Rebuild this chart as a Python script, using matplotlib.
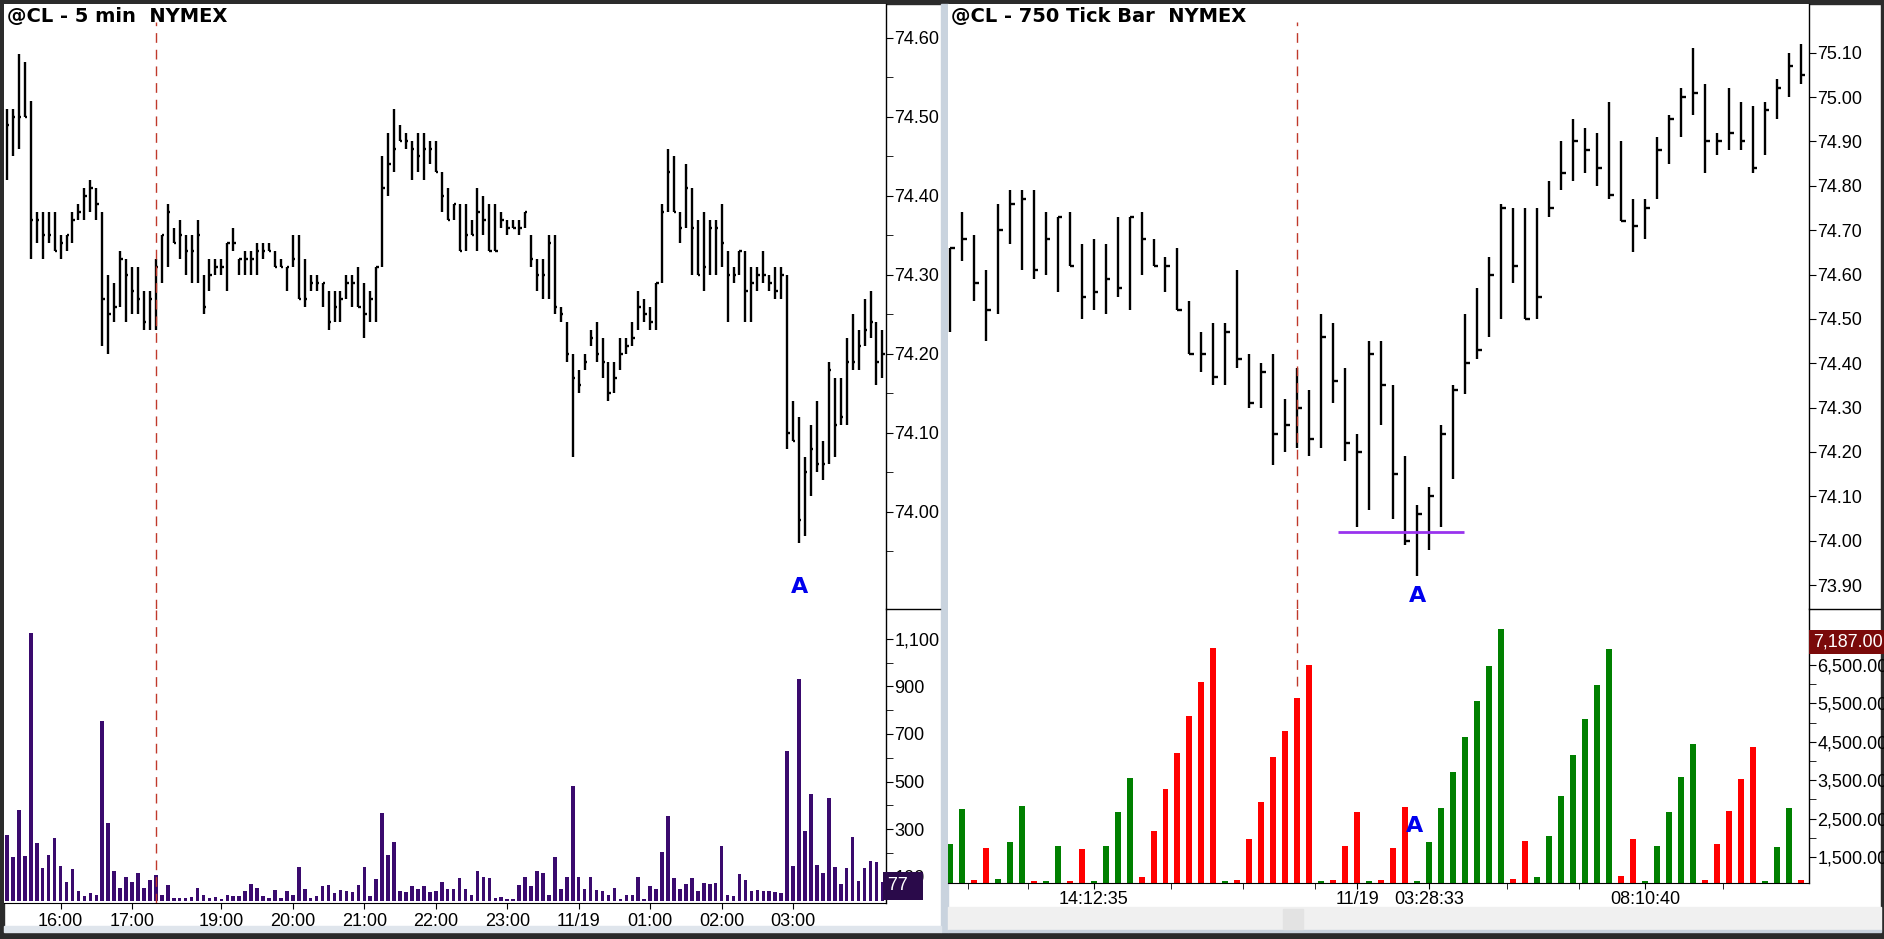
import matplotlib
matplotlib.use("Agg")
import matplotlib.pyplot as plt
from matplotlib.patches import Rectangle
from matplotlib.lines import Line2D
import numpy as np

# ---------------- data: left chart (5 min bars) ----------------
left_high = [74.51,74.51,74.58,74.57,74.52,74.38,74.38,74.38,74.38,74.35,
             74.35,74.38,74.39,74.41,74.42,74.41,74.38,74.30,74.29,74.33,
             74.32,74.31,74.31,74.28,74.28,74.32,74.35,74.39,74.36,74.37,
             74.35,74.35,74.37,74.30,74.32,74.32,74.32,74.34,74.36,74.32,
             74.33,74.33,74.34,74.34,74.34,74.33,74.32,74.31,74.35,74.35,
             74.32,74.30,74.30,74.29,74.28,74.28,74.28,74.30,74.30,74.31,
             74.29,74.28,74.31,74.45,74.48,74.51,74.49,74.48,74.47,74.48,
             74.48,74.47,74.47,74.43,74.41,74.39,74.39,74.39,74.37,74.41,
             74.40,74.39,74.39,74.38,74.37,74.37,74.37,74.38,74.35,74.32,
             74.32,74.35,74.35,74.26,74.24,74.20,74.18,74.20,74.23,74.24,
             74.22,74.19,74.19,74.22,74.22,74.24,74.28,74.27,74.26,74.29,
             74.39,74.46,74.45,74.38,74.44,74.41,74.37,74.38,74.37,74.37,
             74.39,74.33,74.31,74.33,74.33,74.31,74.31,74.33,74.30,74.31,
             74.31,74.30,74.14,74.12,74.07,74.11,74.14,74.09,74.19,74.17,
             74.17,74.22,74.25,74.23,74.27,74.28,74.24,74.23]
left_low = [74.42,74.45,74.46,74.50,74.32,74.34,74.32,74.34,74.33,74.32,
            74.33,74.34,74.37,74.37,74.38,74.37,74.21,74.20,74.24,74.26,
            74.24,74.25,74.25,74.23,74.23,74.23,74.29,74.31,74.34,74.32,
            74.30,74.29,74.29,74.25,74.28,74.30,74.30,74.28,74.33,74.30,
            74.30,74.30,74.30,74.32,74.33,74.31,74.31,74.28,74.31,74.27,
            74.26,74.28,74.28,74.26,74.23,74.24,74.24,74.27,74.26,74.26,
            74.22,74.24,74.24,74.31,74.40,74.43,74.47,74.46,74.42,74.43,
            74.42,74.44,74.43,74.38,74.37,74.37,74.33,74.33,74.35,74.33,
            74.35,74.33,74.33,74.36,74.35,74.36,74.35,74.36,74.31,74.28,
            74.27,74.27,74.25,74.24,74.19,74.07,74.15,74.18,74.21,74.19,
            74.17,74.14,74.15,74.18,74.20,74.21,74.23,74.24,74.23,74.23,
            74.29,74.38,74.38,74.34,74.36,74.30,74.30,74.28,74.30,74.30,
            74.31,74.24,74.29,74.30,74.24,74.24,74.28,74.29,74.28,74.27,
            74.27,74.08,74.09,73.96,73.97,74.02,74.05,74.04,74.06,74.07,
            74.11,74.11,74.18,74.18,74.21,74.22,74.16,74.17]
left_close = [74.49,74.50,74.50,74.50,74.37,74.37,74.35,74.35,74.33,74.34,
              74.35,74.37,74.38,74.40,74.41,74.39,74.27,74.25,74.26,74.32,
              74.30,74.28,74.27,74.24,74.27,74.31,74.35,74.38,74.34,74.35,
              74.33,74.33,74.35,74.26,74.30,74.31,74.31,74.34,74.34,74.32,
              74.32,74.32,74.33,74.33,74.33,74.31,74.31,74.31,74.32,74.27,
              74.27,74.29,74.29,74.29,74.24,74.26,74.27,74.29,74.29,74.26,
              74.25,74.27,74.31,74.41,74.44,74.46,74.47,74.47,74.46,74.45,
              74.46,74.46,74.43,74.40,74.37,74.39,74.33,74.35,74.35,74.38,
              74.37,74.33,74.33,74.37,74.36,74.36,74.36,74.38,74.32,74.30,
              74.30,74.34,74.26,74.25,74.20,74.17,74.16,74.19,74.22,74.20,
              74.19,74.15,74.17,74.20,74.21,74.22,74.26,74.25,74.24,74.29,
              74.38,74.43,74.38,74.36,74.41,74.36,74.30,74.31,74.36,74.36,
              74.34,74.30,74.30,74.33,74.28,74.29,74.30,74.30,74.29,74.28,
              74.30,74.10,74.09,73.99,74.05,74.08,74.06,74.06,74.18,74.11,
              74.12,74.19,74.19,74.21,74.23,74.24,74.19,74.20]
left_volume = [276,182,380,187,1125,244,139,191,264,145,
               80,133,42,20,33,23,755,328,126,55,
               101,80,115,51,87,108,22,66,10,12,
               12,16,55,25,12,14,5,22,20,20,
               40,70,55,20,10,45,10,40,25,140,
               50,10,20,60,65,30,45,42,38,65,
               140,20,90,370,190,245,40,35,60,50,
               60,35,40,80,50,50,95,50,25,125,
               100,95,10,15,8,5,65,100,60,125,
               115,25,185,50,100,480,100,50,100,45,
               40,25,55,5,25,25,100,5,60,50,
               205,355,95,50,70,95,40,75,70,75,
               230,25,20,110,85,40,45,40,40,38,
               30,630,145,930,294,448,150,117,433,143,
               70,139,268,84,139,168,162,77]
left_xticks = [9, 21, 36, 48, 60, 72, 84, 96, 108, 120, 132]
left_xlabels = ["16:00", "17:00", "19:00", "20:00", "21:00", "22:00",
                "23:00", "11/19", "01:00", "02:00", "03:00"]
left_session = 25
left_a_bar = 133

# ---------------- data: right chart (750 tick bars) ----------------
right_high = [74.66,74.74,74.69,74.61,74.76,74.79,74.79,74.79,74.74,74.73,
              74.74,74.67,74.68,74.67,74.73,74.73,74.74,74.68,74.64,74.66,
              74.54,74.47,74.49,74.49,74.61,74.42,74.40,74.42,74.32,74.39,
              74.34,74.51,74.49,74.39,74.24,74.45,74.45,74.35,74.19,74.08,
              74.12,74.26,74.35,74.51,74.57,74.64,74.76,74.75,74.75,74.75,
              74.81,74.90,74.95,74.93,74.92,74.99,74.90,74.77,74.77,74.91,
              74.96,75.02,75.11,75.03,74.92,75.02,74.99,74.98,74.99,75.04,
              75.10,75.12]
right_low = [74.47,74.63,74.54,74.45,74.51,74.67,74.61,74.59,74.60,74.56,
             74.62,74.50,74.52,74.51,74.55,74.52,74.60,74.62,74.56,74.52,
             74.42,74.38,74.35,74.35,74.39,74.30,74.30,74.17,74.20,74.21,
             74.19,74.21,74.31,74.18,74.03,74.07,74.26,74.05,73.99,73.92,
             73.98,74.03,74.14,74.33,74.41,74.46,74.50,74.58,74.50,74.50,
             74.73,74.79,74.81,74.83,74.80,74.77,74.72,74.65,74.68,74.77,
             74.85,74.91,74.96,74.83,74.87,74.88,74.88,74.83,74.87,74.95,
             75.00,75.03]
right_close = [74.66,74.68,74.58,74.52,74.70,74.76,74.77,74.61,74.68,74.73,
               74.62,74.55,74.56,74.59,74.57,74.73,74.68,74.62,74.62,74.52,
               74.42,74.42,74.37,74.47,74.41,74.31,74.38,74.24,74.26,74.30,
               74.23,74.46,74.36,74.22,74.20,74.42,74.35,74.15,74.00,74.06,
               74.10,74.24,74.34,74.40,74.43,74.60,74.75,74.62,74.50,74.55,
               74.75,74.83,74.90,74.88,74.84,74.78,74.72,74.71,74.75,74.88,
               74.95,75.00,75.01,74.90,74.90,74.92,74.90,74.84,74.97,75.02,
               75.07,75.05]
right_volume = [1831,2744,890,1744,918,1883,2822,880,880,1779,
                880,1700,880,1779,2666,3553,974,2170,3266,4205,
                5170,6057,6944,880,890,1961,2927,4100,4779,5640,
                6500,880,890,1779,2666,880,890,1727,2796,880,
                1883,2770,3709,4622,5561,6474,7440,918,1909,974,
                2040,3083,4153,5092,5979,6918,1000,1961,880,1779,
                2666,3579,4440,890,1831,2692,3527,4361,880,1753,
                2770,890]
right_up = [1,1,0,0,1,1,1,0,1,1,0,0,1,1,1,1,0,0,0,0,
            0,0,0,1,0,0,0,0,0,0,0,1,0,0,0,1,0,0,0,1,
            1,1,1,1,1,1,1,0,0,1,1,1,1,1,1,1,0,0,1,1,
            1,1,1,0,0,0,0,0,1,1,1,0]
right_xticks = [12, 34, 40, 58]
right_xlabels = ["14:12:35", "11/19", "03:28:33", "08:10:40"]
right_minor = [1.5, 6.5, 18.5, 24.5, 30.5, 46.5, 52.5, 64.5]
right_session = 29
right_support = 74.02
right_a_bar = 39
right_last_label = "7,187.00"

# ---------------- layout helpers ----------------
W, H = 1884, 939
fig = plt.figure(figsize=(W / 100, H / 100), dpi=100)
fig.patch.set_facecolor("white")
FONT = ["Liberation Sans Narrow", "Liberation Sans", "DejaVu Sans"]
plt.rcParams["font.family"] = FONT


def px_axes(x0, y0, x1, y1):
    return fig.add_axes([x0 / W, 1 - y1 / H, (x1 - x0) / W, (y1 - y0) / H])


def bg(x0, y0, x1, y1, color):
    fig.patches.append(Rectangle((x0 / W, 1 - y1 / H), (x1 - x0) / W, (y1 - y0) / H,
                                 transform=fig.transFigure, color=color, zorder=-5))


def fline(x0, x1, y, color="black", lw=1.0):
    fig.lines.append(Line2D([x0 / W, x1 / W], [1 - y / H, 1 - y / H],
                            transform=fig.transFigure, color=color, lw=lw))


# frame decorations
bg(0, 0, W, 4, "#2b2b2b")
bg(0, 0, 4, H, "#2b2b2b")
bg(W - 3, 0, W, H, "#2b2b2b")
bg(0, 932, W, H, "#2b2b2b")
bg(941, 4, 948, 932, "#c9d3de")
bg(4, 926, 941, 932, "#dfe5ec")
bg(948, 907, W - 3, 930, "#f0f0f0")
bg(948, 930, W - 3, 932, "#c9d3de")
bg(1283, 909, 1303, 929, "#e3e3e3")
fline(886, 940, 609)
fline(1809, W - 4, 609)


def style_price(ax, lo, hi, ticks, minor, fmt):
    ax.set_ylim(lo, hi)
    for s in ["left", "top", "bottom"]:
        ax.spines[s].set_visible(False)
    ax.spines["right"].set_linewidth(1.0)
    ax.yaxis.tick_right()
    ax.set_yticks(ticks)
    ax.set_yticklabels([fmt(t) for t in ticks], fontsize=13)
    ax.set_yticks(minor, minor=True)
    ax.tick_params(axis="y", which="both", direction="out", length=5, pad=1)
    ax.set_xticks([])


def draw_bars(ax, high, low, close):
    x = np.arange(len(high))
    ax.vlines(x, low, high, color="black", lw=1.7)
    ax.hlines(close, x, x + 0.4, color="black", lw=1.7)


# ---------------- left chart ----------------
n_left = len(left_high)
axp = px_axes(4, 4, 886, 609)
draw_bars(axp, left_high, left_low, left_close)
axp.set_xlim(-0.5, n_left - 0.4)
lt = [74.00, 74.10, 74.20, 74.30, 74.40, 74.50, 74.60]
style_price(axp, 73.877, 74.643, lt, [73.95, 74.05, 74.15, 74.25, 74.35, 74.45, 74.55],
            lambda v: f"{v:.2f}")
axp.axvline(left_session, ymin=0, ymax=0.97, color="#c0392b", lw=1, ls=(0, (7, 5)))
axp.text(0.003, 0.995, "@CL - 5 min  NYMEX", transform=axp.transAxes, ha="left", va="top",
         fontsize=14, fontweight="bold", family=["Liberation Sans Narrow", "DejaVu Sans"])
axp.text(left_a_bar, 73.905, "A", color="#0000ee", fontsize=16, fontweight="bold",
         ha="center", va="center", family=["DejaVu Sans"])

axv = px_axes(4, 609, 886, 903)
axv.bar(np.arange(n_left), left_volume, width=0.6, color="#3a0a6e")
axv.set_xlim(-0.5, n_left - 0.4)
vt = [100, 300, 500, 700, 900, 1100]
style_price(axv, -10, 1225, vt, [200, 400, 600, 800, 1000], lambda v: f"{v:,}")
axv.spines["bottom"].set_visible(True)
axv.set_xticks(left_xticks)
axv.set_xticklabels(left_xlabels, fontsize=13)
axv.tick_params(axis="x", direction="out", length=4, pad=3)
axv.axvline(left_session, color="#c0392b", lw=1, ls=(0, (7, 5)))
fig.text(888 / W, 1 - 886 / H, f"{left_volume[-1]}  ", ha="left", va="center",
         fontsize=13, color="white",
         bbox=dict(boxstyle="square,pad=0.3", fc="#2a0a4a", ec="none"), zorder=20)

# ---------------- right chart ----------------
n_right = len(right_high)
arp = px_axes(948, 4, 1809, 609)
draw_bars(arp, right_high, right_low, right_close)
arp.set_xlim(-0.15, n_right - 0.3)
rt = [round(73.9 + 0.1 * i, 2) for i in range(13)]
style_price(arp, 73.846, 75.21, rt, [], lambda v: f"{v:.2f}")
arp.axvline(right_session, ymin=0, ymax=0.97, color="#c0392b", lw=1, ls=(0, (7, 5)))
arp.hlines(right_support, 32.4, 42.9, color="#9933ee", lw=2)
arp.text(0.003, 0.995, "@CL - 750 Tick Bar  NYMEX", transform=arp.transAxes, ha="left",
         va="top", fontsize=14, fontweight="bold",
         family=["Liberation Sans Narrow", "DejaVu Sans"])
arp.text(right_a_bar, 73.875, "A", color="#0000ee", fontsize=16, fontweight="bold",
         ha="center", va="center", family=["DejaVu Sans"])

arv = px_axes(948, 609, 1809, 883)
colors = ["#008000" if u else "#ff0000" for u in right_up]
arv.bar(np.arange(n_right), right_volume, width=0.5, color=colors)
arv.set_xlim(-0.15, n_right - 0.3)
rvt = [1500, 2500, 3500, 4500, 5500, 6500]
style_price(arv, 822, 7960, rvt, [2000, 3000, 4000, 5000, 6000], lambda v: f"{v:,.2f}")
arv.spines["bottom"].set_visible(True)
arv.set_xticks(right_xticks)
arv.set_xticklabels(right_xlabels, fontsize=13)
arv.set_xticks(right_minor, minor=True)
arv.tick_params(axis="x", which="both", direction="out", length=4, pad=2)
arv.axvline(right_session, ymin=0.72, ymax=1.0, color="#c0392b", lw=1, ls=(0, (7, 5)))
arv.text(right_a_bar - 0.2, 2300, "A", color="#0000ee", fontsize=16, fontweight="bold",
         ha="center", va="center", family=["DejaVu Sans"])
fig.text(1813 / W, 1 - 642 / H, right_last_label, ha="left", va="center",
         fontsize=13, color="white",
         bbox=dict(boxstyle="square,pad=0.2", fc="#7a0a0a", ec="none"), zorder=20)

fig.savefig("out.png", dpi=100)
